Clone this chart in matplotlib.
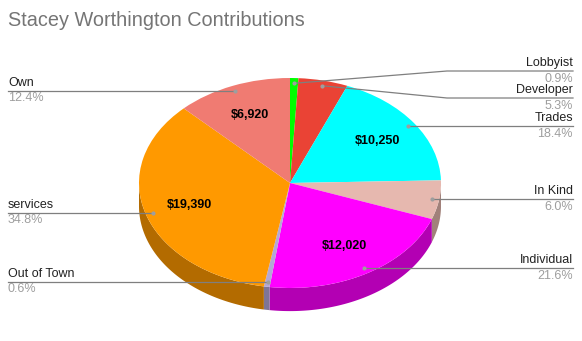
import matplotlib.pyplot as plt
import numpy as np
from matplotlib.colors import to_rgb

plt.rcParams["font.family"] = ["Liberation Sans", "DejaVu Sans"]

labels = ["Lobbyist", "Developer", "Trades", "In Kind", "Individual",
          "Out of Town", "services", "Own"]
amounts = [500, 2950, 10250, 3334, 12020, 340, 19390, 6920]
colors = ["#00ff00", "#ea4335", "#00ffff", "#e6b8af", "#ff00ff",
          "#b4a7d6", "#ff9900", "#f07b72"]
title = "Stacey Worthington Contributions"

W, H = 582, 341
CX, CY = 290, 183      # pie centre in pixels (from top-left)
RX, RY = 151, 105      # ellipse radii in pixels
DEPTH = 0.22           # wall height, in units of RY
GAP = 27               # min vertical spacing between outside labels

fig = plt.figure(figsize=(W / 100, H / 100), dpi=100)

# pie axes: unit circle stretched into the ellipse
ax = fig.add_axes([(CX - RX) / W, (H - CY - RY) / H, 2 * RX / W, 2 * RY / H])
wedges, _ = ax.pie(amounts, colors=colors, startangle=90, counterclock=False,
                   radius=1, wedgeprops=dict(linewidth=0))
ax.set_aspect("auto")
ax.set_xlim(-1, 1)
ax.set_ylim(-1, 1)

vals = np.array(amounts, dtype=float)
frac = vals / vals.sum()
edges = 90 - 360 * np.concatenate([[0], np.cumsum(frac)])
mids = np.radians((edges[:-1] + edges[1:]) / 2)

# side walls for the front half of the pie
for i in range(len(vals)):
    lo, hi = max(edges[i + 1], -180), min(edges[i], 0)
    if lo >= hi:
        continue
    t = np.radians(np.linspace(lo, hi, 80))
    xs = np.concatenate([np.cos(t), np.cos(t[::-1])])
    ys = np.concatenate([np.sin(t), np.sin(t[::-1]) - DEPTH])
    dark = tuple(c * 0.7 for c in to_rgb(colors[i]))
    for p in ax.fill(xs, ys, color=dark, lw=0, zorder=0.5):
        p.set_clip_on(False)

# value labels on the larger slices
for i, v in enumerate(vals):
    if frac[i] >= 0.06:
        ax.text(0.7 * np.cos(mids[i]), 0.7 * np.sin(mids[i]), f"${v:,.0f}",
                ha="center", va="center", fontsize=9, fontweight="bold",
                color="black")

# overlay in pixel coordinates for title and outside labels
ov = fig.add_axes([0, 0, 1, 1])
ov.set_xlim(0, W)
ov.set_ylim(H, 0)
ov.axis("off")

ov.text(8, 20.5, title, fontsize=14.3, color="#757575", va="center", ha="left")

to_ov = ov.transData.inverted()
anchors = []
for i in range(len(vals)):
    p = ax.transData.transform((0.95 * np.cos(mids[i]), 0.95 * np.sin(mids[i])))
    anchors.append(to_ov.transform(p))

# spread labels on each side so they do not overlap
label_y = {}
for side in ("left", "right"):
    idx = [i for i in range(len(vals))
           if (np.cos(mids[i]) > 0) == (side == "right")]
    idx.sort(key=lambda i: anchors[i][1])
    ys = [anchors[i][1] for i in idx]
    for _ in range(50):
        for k in range(len(ys) - 1):
            d = ys[k + 1] - ys[k]
            if d < GAP:
                shift = (GAP - d) / 2
                ys[k] -= shift
                ys[k + 1] += shift
    for i, y in zip(idx, ys):
        label_y[i] = y

line_c = "#7f7f7f"
for i, name in enumerate(labels):
    axp, ayp = anchors[i]
    ly = label_y[i]
    if np.cos(mids[i]) > 0:
        xs = [axp, 447, 573]
        tx, ha = 573, "right"
    else:
        xs = [axp, 135, 8]
        tx, ha = 8, "left"
    ov.plot(xs, [ayp, ly, ly], color=line_c, lw=0.9)
    ov.plot(axp, ayp, "o", ms=3, color="#9e9e9e", mec="none")
    ov.text(tx, ly - 8, name, ha=ha, va="center", fontsize=9, color="#222222")
    ov.text(tx, ly + 7.5, f"{frac[i] * 100:.1f}%", ha=ha, va="center",
            fontsize=9, color="#9e9e9e")

fig.savefig("out.png", dpi=100)
